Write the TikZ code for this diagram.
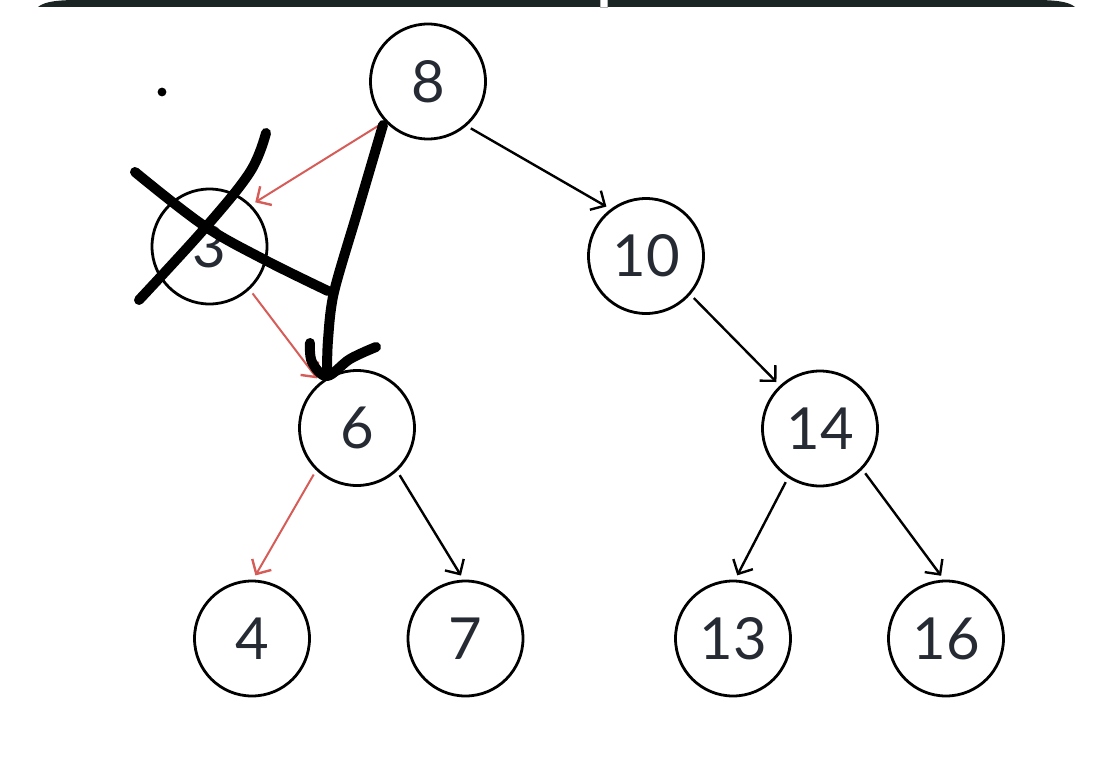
\documentclass[tikz,border=0pt]{standalone}
\usepackage{fontspec}
\setmainfont{Lato}
\usetikzlibrary{arrows.meta, positioning}
\definecolor{edgered}{RGB}{214,92,88}
\definecolor{numtext}{RGB}{38,42,51}
\definecolor{topbar}{RGB}{27,37,35}

\begin{document}
\begin{tikzpicture}[
    x=0.5pt, y=-0.5pt,
    every node/.style={font=\fontsize{29}{33}\selectfont, text=numtext},
    key/.style={circle, draw=black, line width=1.4pt, minimum size=57.5pt, inner sep=0pt},
    link/.style={-{Straight Barb[length=5.5pt, width=11pt, line width=1.2pt]}, line width=1.2pt, shorten <=2.4pt, shorten >=2.4pt},
    path/.style={link, draw=edgered, line width=1pt},
    ink/.style={line width=5pt, line cap=round, line join=round, draw=black}
]
\useasboundingbox (0,0) rectangle (1113,765);

% --- Top bar ---
\fill[topbar] (38,7) .. controls (45,1) and (60,0) .. (80,0) -- (1033,0) .. controls (1053,0) and (1068,1) .. (1075,7) -- cycle;
\filldraw[fill=white, draw=gray!60, line width=0.3pt] (600,-1) rectangle (607,7);

% --- Tree nodes ---
\node[key] (n8)  at (428,81.5) {8};
\node[key] (n3)  at (209.5,246.5) {3};
\node[key] (n10) at (646,256) {10};
\node[key] (n6)  at (357,428) {6};
\node[key] (n14) at (820,428.5) {14};
\node[key] (n4)  at (252,638.5) {4};
\node[key] (n7)  at (465.5,638.5) {7};
\node[key] (n13) at (733,638.5) {13};
\node[key] (n16) at (946,638.5) {16};

% --- Edges ---
\draw[link] (n8.-49) -- (n10.127);
\draw[link] (n10.-41) -- (n14.133);
\draw[link] (n6.-47) -- (n7.92);
\draw[link] (n14.-123) -- (n13.88);
\draw[link] (n14.-44) -- (n16.92);

% --- Search path (red) ---
\draw[path] (n8.-137) -- (n3.45);
\draw[path] (n3.-47.5) -- (n6.129);
\draw[path] (n6.-134) -- (n4.89);

% --- Hand-drawn marks ---
\fill (162,92) circle (2.2pt);
\draw[ink] plot[smooth, tension=0.6] coordinates {(266,133) (250,172) (205,228) (139,300)};
\draw[ink] plot[smooth, tension=0.6] coordinates {(135,172) (203,225) (263,259) (328,291)};
\draw[ink] plot[smooth, tension=0.5] coordinates {(383,125) (358,210) (334,292) (328,340) (327,373)};
\draw[ink] plot[smooth, tension=0.6] coordinates {(310,343) (312,362) (327,376) (350,359) (376,347)};
\end{tikzpicture}
\end{document}
